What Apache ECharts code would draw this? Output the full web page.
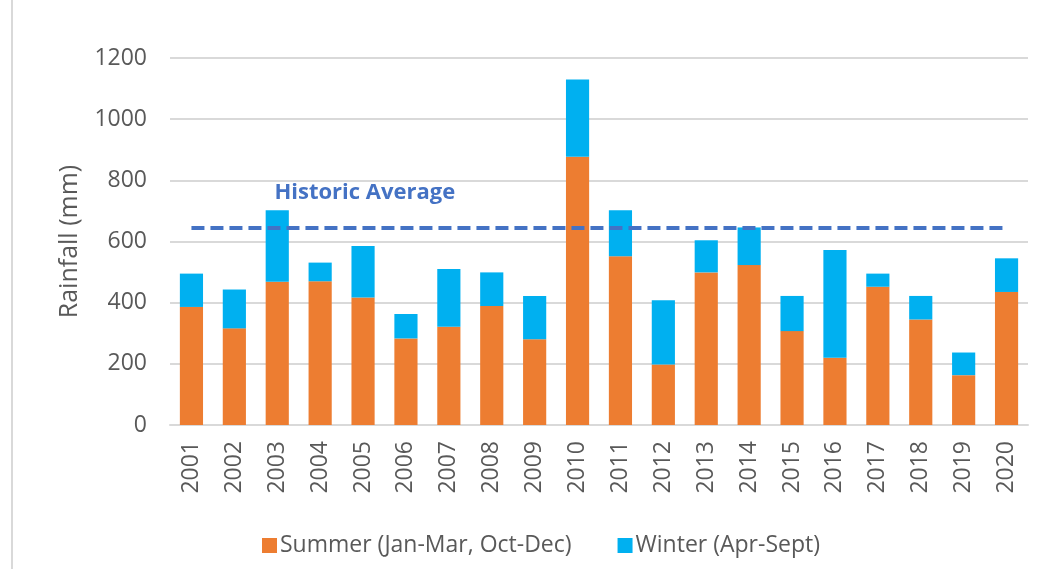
<!DOCTYPE html>
<html lang="en" style="width: 100%; height: 100%">
<head>
  <meta charset="utf-8">
  <script src="https://cdn.jsdelivr.net/npm/echarts@6/dist/echarts.min.js"></script>
</head>
<body style="margin: 0; width: 100%; height: 100%; background: #fff">
  <div id="container" style="width: 1047px; height: 569px"></div>
  <script type="text/javascript">

var years = ['2001', '2002', '2003', '2004', '2005', '2006', '2007', '2008', '2009', '2010',
             '2011', '2012', '2013', '2014', '2015', '2016', '2017', '2018', '2019', '2020'];

// summer part (bottom of stack)
var summer = [386, 316, 468, 470, 417, 283, 321, 389, 280, 877,
              552, 198, 499, 523, 307, 220, 452, 345, 163, 435];

// winter part, sitting on top of summer
var winter = [109, 127, 234, 61, 168, 80, 189, 110, 142, 253,
              150, 210, 105, 123, 115, 352, 43, 77, 74, 110];

var historicAverage = 646;

var dom = document.getElementById('container');
var myChart = echarts.init(dom, null, { renderer: 'canvas' });

var font = 'Open Sans';
var grey = '#595959';

var option = {
  animation: false,
  backgroundColor: '#fff',
  textStyle: { fontFamily: font },
  graphic: [{
    type: 'rect',
    left: 11,
    top: 0,
    shape: { width: 2, height: 569 },
    style: { fill: '#d9d9d9' }
  }],
  legend: {
    left: 257,
    top: 529,
    itemWidth: 15,
    itemHeight: 15,
    itemGap: 46,
    icon: 'rect',
    textStyle: { fontSize: 23, color: grey, fontFamily: font, padding: [0, 0, 0, -2] },
    data: ['Summer (Jan-Mar, Oct-Dec)', 'Winter (Apr-Sept)']
  },
  grid: {
    left: 170,
    right: 19,
    top: 58,
    bottom: 144
  },
  xAxis: {
    type: 'category',
    data: years,
    axisLine: { lineStyle: { color: '#d9d9d9', width: 2 } },
    axisTick: { show: false },
    axisLabel: {
      rotate: 90,
      margin: 16,
      fontSize: 23,
      color: grey,
      fontFamily: font
    }
  },
  yAxis: {
    type: 'value',
    min: 0,
    max: 1200,
    interval: 200,
    name: 'Rainfall (mm)',
    nameLocation: 'middle',
    nameGap: 88,
    nameTextStyle: { fontSize: 25, color: grey, fontFamily: font },
    axisLine: { show: false },
    axisTick: { show: false },
    axisLabel: {
      fontSize: 23,
      color: grey,
      margin: 23,
      fontFamily: font,
      formatter: function (v) { return String(v); }
    },
    splitLine: { lineStyle: { color: '#d9d9d9', width: 2 } }
  },
  series: [
    {
      name: 'Summer (Jan-Mar, Oct-Dec)',
      type: 'bar',
      stack: 'rain',
      barWidth: '54%',
      itemStyle: { color: '#ED7D31' },
      data: summer
    },
    {
      name: 'Winter (Apr-Sept)',
      type: 'bar',
      stack: 'rain',
      barWidth: '54%',
      itemStyle: { color: '#00B0F0' },
      data: winter,
      markLine: {
        silent: true,
        symbol: 'none',
        lineStyle: { color: '#4472C4', type: [13, 6], width: 4 },
        label: {
          show: true,
          formatter: 'Historic Average',
          position: 'insideStartTop',
          distance: [83, 24],
          fontSize: 22,
          fontWeight: 'bold',
          color: '#4472C4',
          fontFamily: font
        },
        data: [[
          { coord: ['2001', historicAverage] },
          { coord: ['2020', historicAverage] }
        ]]
      }
    }
  ]
};

myChart.setOption(option);
window.addEventListener('resize', myChart.resize);

  </script>
</body>
</html>
